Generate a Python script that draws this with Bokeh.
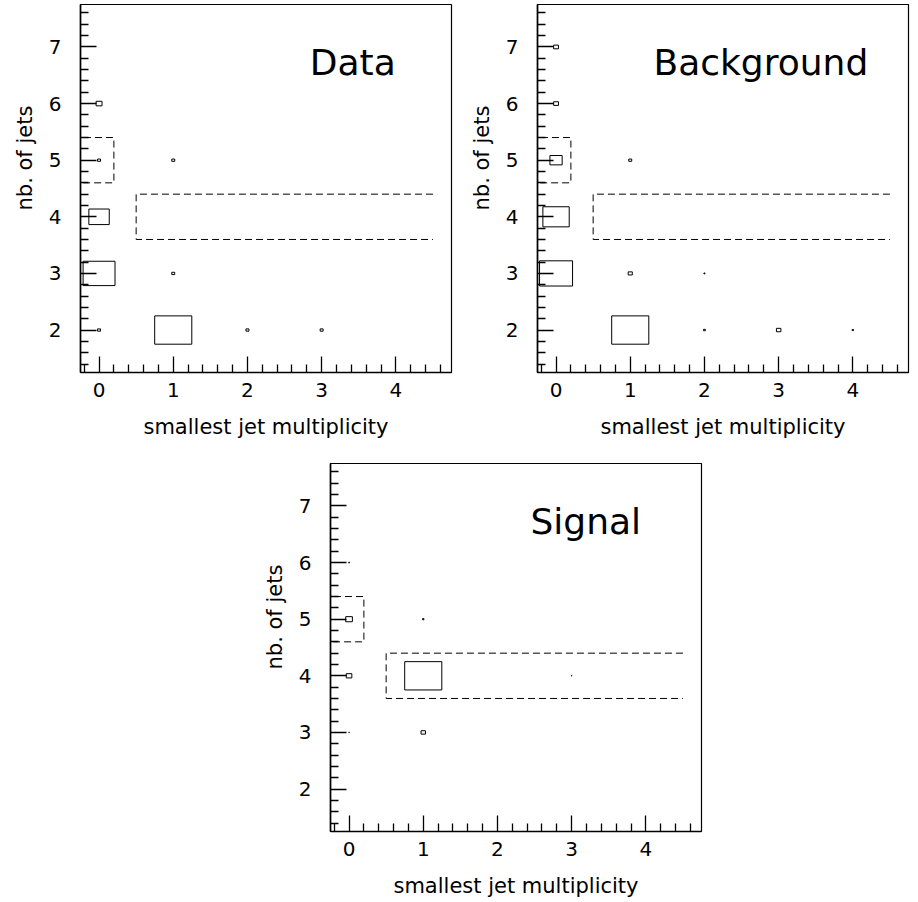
from bokeh.plotting import figure
from bokeh.models import FixedTicker, Label, Range1d, Spacer, ColumnDataSource, Title
from bokeh.layouts import column, row
from bokeh.embed import file_html
from bokeh.resources import INLINE

# ---------------- data ----------------
# box side (fraction of bin) for each filled cell: x = smallest jet multiplicity, y = nb. of jets
data_x = [0, 1, 2, 3, 0, 1, 0, 0, 1, 0]
data_y = [2, 2, 2, 2, 3, 3, 4, 5, 5, 6]
data_side = [0.04, 0.5, 0.04, 0.04, 0.43, 0.04, 0.275, 0.04, 0.04, 0.08]

bkg_x = [1, 2, 3, 4, 0, 1, 2, 0, 0, 1, 0, 0]
bkg_y = [2, 2, 2, 2, 3, 3, 3, 4, 5, 5, 6, 7]
bkg_side = [0.5, 0.025, 0.06, 0.02, 0.445, 0.055, 0.015, 0.355, 0.165, 0.04, 0.065, 0.065]

sig_x = [0, 1, 0, 1, 3, 0, 1, 0]
sig_y = [3, 3, 4, 4, 4, 5, 5, 6]
sig_side = [0.008, 0.06, 0.075, 0.5, 0.008, 0.09, 0.02, 0.012]

# selection regions (dashed)
cut_a_x = [-0.5, 0.2]
cut_a_y = [4.6, 5.4]
cut_b_x = [0.5, 4.5]
cut_b_y = [3.6, 4.4]

x_ticks = [0, 1, 2, 3, 4]
y_ticks = [2, 3, 4, 5, 6, 7]
x_label = "smallest jet multiplicity"
y_label = "nb. of jets"

FONT = "DejaVu Sans"

x_minor = [v for v in (round(-0.2 + 0.2 * i, 2) for i in range(25)) if abs(v - round(v)) > 1e-6]
y_minor = [v for v in (round(1.4 + 0.2 * i, 2) for i in range(32)) if abs(v - round(v)) > 1e-6]


def make_panel(title, xs, ys, sides, title_x, width, height, bl, br, bt, bb):
    p = figure(width=width, height=height,
               x_range=Range1d(-0.25, 4.75), y_range=Range1d(1.25, 7.75),
               output_backend="svg", toolbar_location=None,
               min_border_left=bl, min_border_right=br,
               min_border_top=bt, min_border_bottom=bb)
    p.grid.visible = False
    p.background_fill_color = "white"
    p.border_fill_color = "white"
    p.outline_line_color = "black"
    p.outline_line_width = 1.2
    p.outline_line_alpha = 1.0

    for ax, ticks, minor in ((p.xaxis, x_ticks, x_minor), (p.yaxis, y_ticks, y_minor)):
        ax.ticker = FixedTicker(ticks=ticks, minor_ticks=minor)
        ax.axis_line_color = "black"
        ax.axis_line_width = 1.6
        ax.major_tick_line_color = "black"
        ax.minor_tick_line_color = "black"
        ax.major_tick_line_width = 1.3
        ax.minor_tick_line_width = 1.3
        ax.major_tick_out = 0
        ax.minor_tick_out = 0
        ax.major_tick_in = 16
        ax.minor_tick_in = 8
        ax.major_label_text_font = FONT
        ax.major_label_text_font_size = "20px"
        ax.major_label_text_color = "black"

    p.xaxis.major_label_standoff = 10
    p.yaxis.major_label_standoff = 19
    p.xaxis.axis_label = x_label
    p.xaxis.axis_label_text_font = FONT
    p.xaxis.axis_label_text_font_size = "21px"
    p.xaxis.axis_label_text_font_style = "normal"
    p.xaxis.axis_label_text_color = "black"
    p.xaxis.axis_label_standoff = 15

    src = ColumnDataSource(dict(x=xs, y=ys, s=sides))
    p.rect(x="x", y="y", width="s", height="s", source=src,
           fill_color=None, line_color="black", line_width=1)

    p.multi_line(xs=[[cut_a_x[0], cut_a_x[1], cut_a_x[1], cut_a_x[0]],
                     [cut_b_x[1], cut_b_x[0], cut_b_x[0], cut_b_x[1]]],
                 ys=[[cut_a_y[1], cut_a_y[1], cut_a_y[0], cut_a_y[0]],
                     [cut_b_y[1], cut_b_y[1], cut_b_y[0], cut_b_y[0]]],
                 line_color="black", line_width=1, line_dash="7 4")

    p.add_layout(Label(x=title_x, y=6.73, text=title, text_align="center",
                       text_baseline="alphabetic", text_font=FONT,
                       text_font_size="36px", text_color="black"))
    p.add_layout(Title(text=y_label, align="left", offset=162,
                       text_font=FONT, text_font_size="21px",
                       text_font_style="normal", text_color="black",
                       standoff=17), "left")
    return p


p1 = make_panel("Data", data_x, data_y, data_side, 3.42, 455, 441, 80, 4, 4, 66)
p2 = make_panel("Background", bkg_x, bkg_y, bkg_side, 2.76, 455, 441, 82, 2, 4, 66)
p3 = make_panel("Signal", sig_x, sig_y, sig_side, 3.19, 459, 459, 80, 8, 22, 66)

layout = column(row(p1, p2), row(Spacer(width=250, height=10), p3))

open("out.html", "w").write(file_html(layout, INLINE))
